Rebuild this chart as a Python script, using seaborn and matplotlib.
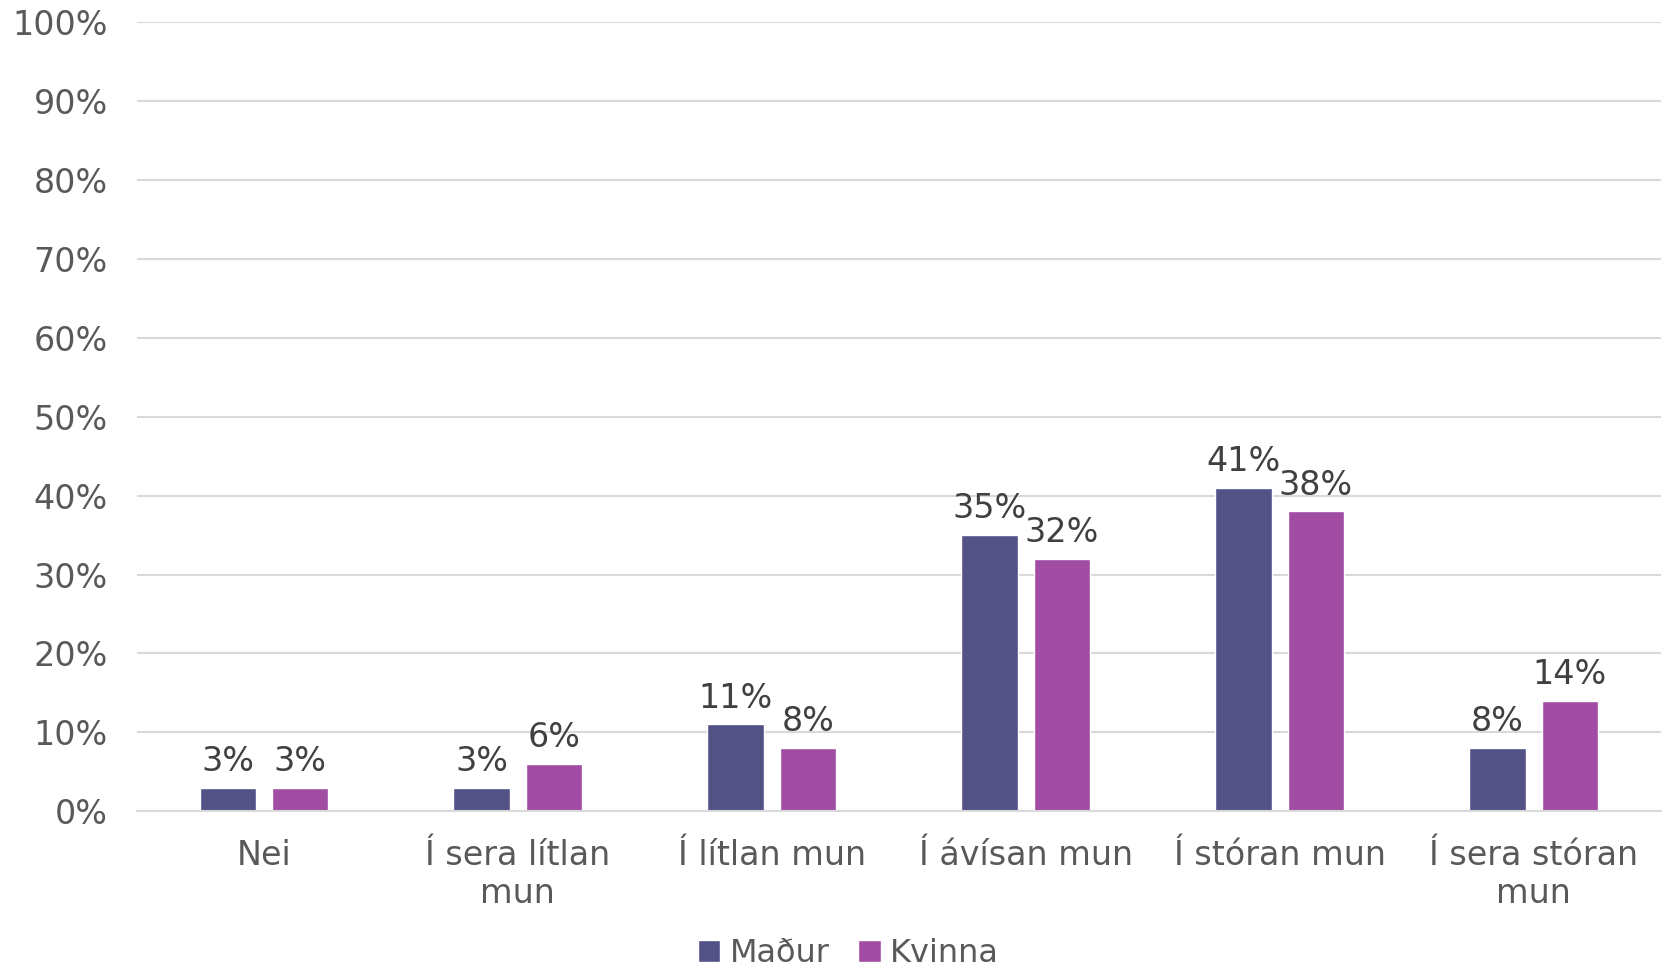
import seaborn as sns
import matplotlib.pyplot as plt
import pandas as pd

# categories and values (percent)
categories = ['Nei', 'Í sera lítlan\nmun', 'Í lítlan mun', 'Í ávísan mun', 'Í stóran mun', 'Í sera stóran\nmun']
madur = [3, 3, 11, 35, 41, 8]
kvinna = [3, 6, 8, 32, 38, 14]
series_names = ['Maður', 'Kvinna']
colors = ['#525287', '#A04DA3']

df = pd.DataFrame({
    'category': categories * 2,
    'value': madur + kvinna,
    'group': [series_names[0]] * len(categories) + [series_names[1]] * len(categories),
})

sns.set_style('white')
plt.rcParams['font.family'] = ['DejaVu Sans']

fig = plt.figure(figsize=(16.65, 9.68), dpi=100)
ax = fig.add_axes([0.0823, 0.162, 0.915, 0.815])

sns.barplot(data=df, x='category', y='value', hue='group', palette=colors,
            width=0.57, gap=0.22, ax=ax, saturation=1, legend=True)

ax.set_ylim(0, 100)
ax.set_yticks(range(0, 101, 10))
ax.set_yticklabels([f'{v}%' for v in range(0, 101, 10)])
ax.grid(axis='y', color='#D9D9D9', linewidth=1.5)
ax.set_axisbelow(True)
for s in ['top', 'right', 'left']:
    ax.spines[s].set_visible(False)
ax.spines['bottom'].set_color('#D9D9D9')
ax.spines['bottom'].set_linewidth(1.5)
ax.tick_params(axis='both', length=0, labelsize=24, colors='#595959')
ax.tick_params(axis='x', pad=20)
ax.tick_params(axis='y', pad=21)
ax.set_xlabel('')
ax.set_ylabel('')

# data labels
for cont in ax.containers:
    ax.bar_label(cont, labels=[f'{v:.0f}%' for v in cont.datavalues],
                 fontsize=24, color='#404040', padding=7)

ax.legend(loc='center', bbox_to_anchor=(0.467, -0.181), ncol=2, frameon=False,
          fontsize=23, labelcolor='#595959', handlelength=0.7, handleheight=0.7,
          handletextpad=0.3, columnspacing=0.9)

fig.savefig('out.png', dpi=100)
